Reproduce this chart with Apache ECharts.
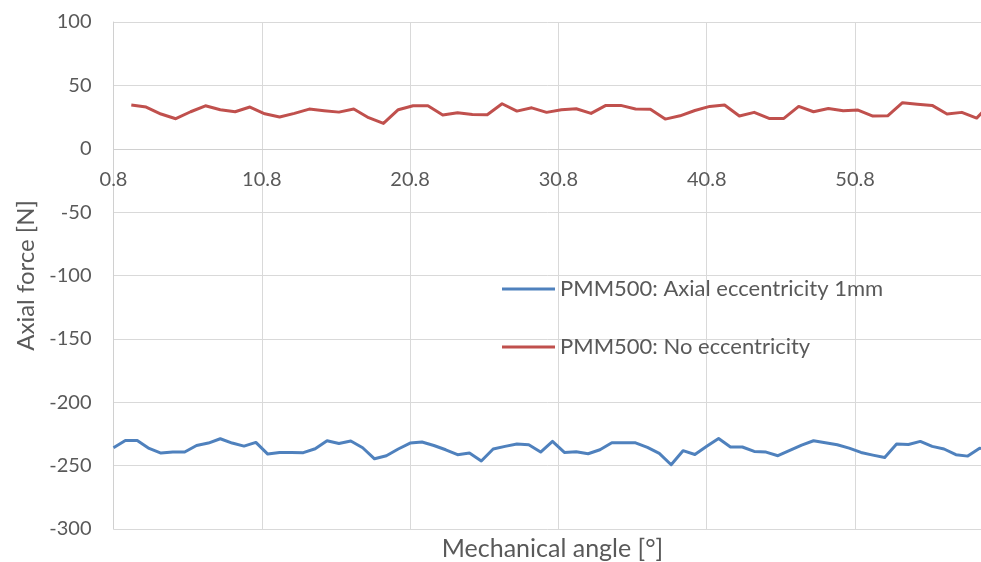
<!DOCTYPE html>
<html>
<head>
<meta charset="utf-8">
<script src="https://cdn.jsdelivr.net/npm/echarts@6/dist/echarts.min.js"></script>
<style>
  html, body { margin: 0; padding: 0; background: #ffffff; }
  #chart { width: 981px; height: 562px; }
</style>
</head>
<body>
<div id="chart"></div>
<script>
// Mechanical angle [°] and axial force [N] for the two PMM500 cases
const eccAngles = [
  0.8, 1.6, 2.4, 3.2, 4.0, 4.8, 5.6, 6.4, 7.2, 8.0,
  8.8, 9.6, 10.4, 11.2, 12.0, 12.8, 13.6, 14.4, 15.2, 16.0,
  16.8, 17.6, 18.4, 19.2, 20.0, 20.8, 21.6, 22.4, 23.2, 24.0,
  24.8, 25.6, 26.4, 27.2, 28.0, 28.8, 29.6, 30.4, 31.2, 32.0,
  32.8, 33.6, 34.4, 35.2, 36.0, 36.8, 37.6, 38.4, 39.2, 40.0,
  40.8, 41.6, 42.4, 43.2, 44.0, 44.8, 45.6, 46.4, 47.2, 48.0,
  48.8, 49.6, 50.4, 51.2, 52.0, 52.8, 53.6, 54.4, 55.2, 56.0,
  56.8, 57.6, 58.4, 59.2, 60.0
];
const eccForce = [
  -235.9, -230.1, -230.1, -236.4, -240.1, -239.3, -239.3, -234.1, -232.2, -228.8,
  -232.2, -234.6, -231.7, -240.9, -239.6, -239.6, -239.8, -236.7, -230.4, -232.5,
  -230.6, -235.9, -244.6, -242.2, -236.9, -232.2, -231.4, -234.1, -237.5, -241.4,
  -240.1, -246.4, -236.9, -234.8, -233.0, -233.5, -239.3, -230.9, -239.6, -239.1,
  -240.6, -237.5, -232.0, -232.0, -232.0, -235.6, -240.3, -249.3, -238.2, -241.2,
  -234.8, -228.6, -235.3, -235.3, -238.8, -239.3, -242.2, -238.0, -233.8, -230.4,
  -232.0, -233.5, -236.2, -239.6, -241.7, -243.6, -233.0, -233.3, -230.9, -234.8,
  -236.9, -241.4, -242.5, -236.2, -239.0
];

const noEccAngles = [
  2, 3, 4, 5, 6, 7, 8, 9, 10, 11,
  12, 13, 14, 15, 16, 17, 18, 19, 20, 21,
  22, 23, 24, 25, 26, 27, 28, 29, 30, 31,
  32, 33, 34, 35, 36, 37, 38, 39, 40, 41,
  42, 43, 44, 45, 46, 47, 48, 49, 50, 51,
  52, 53, 54, 55, 56, 57, 58, 59, 60
];
const noEccForce = [
  34.5, 32.9, 27.4, 23.7, 29.2, 33.9, 30.8, 29.2, 32.9, 27.6,
  25.0, 27.9, 31.3, 30.0, 28.9, 31.3, 24.5, 20.0, 30.8, 33.9,
  33.9, 26.6, 28.4, 27.1, 26.8, 35.5, 29.7, 32.3, 28.7, 30.8,
  31.6, 27.9, 34.2, 34.2, 31.3, 31.1, 23.4, 26.0, 30.2, 33.4,
  34.5, 25.8, 28.7, 23.9, 23.9, 33.4, 29.2, 31.8, 30.0, 30.5,
  25.8, 26.0, 36.3, 35.2, 34.2, 27.4, 28.7, 24.2, 36.0
];

const seriesNames = ['PMM500: Axial eccentricity 1mm', 'PMM500: No eccentricity'];
const seriesColors = ['#4F81BD', '#C0504D'];

const pairs = (xs, ys) => xs.map((x, i) => [x, ys[i]]);

const FONT = 'Lato';
const TEXT = '#595959';

// plot area: y spans 22..529 px, so the zero line sits 380 px above the bottom edge
const GRID_TOP = 22, GRID_BOTTOM = 33;
const Y_MIN = -300, Y_MAX = 100;
const plotH = 562 - GRID_TOP - GRID_BOTTOM;
const zeroLift = plotH * (0 - Y_MIN) / (Y_MAX - Y_MIN);

const chart = echarts.init(document.getElementById('chart'), null, { renderer: 'canvas' });
chart.setOption({
  animation: false,
  backgroundColor: '#ffffff',
  textStyle: { fontFamily: FONT, color: TEXT },
  grid: {
    left: 113.5, right: -10.5, top: GRID_TOP, bottom: GRID_BOTTOM,
    containLabel: false, outerBoundsMode: 'none'
  },
  legend: {
    orient: 'vertical',
    left: 502,
    top: 278,
    padding: 0,
    itemWidth: 53,
    itemHeight: 14,
    itemGap: 36,
    icon: 'path://M0,6 L53,6 L53,9 L0,9 Z',
    textStyle: { fontFamily: FONT, fontSize: 22, color: TEXT },
    data: seriesNames
  },
  xAxis: {
    type: 'value',
    min: 0.8,
    max: 60,
    interval: 10,
    offset: -zeroLift,
    name: 'Mechanical angle [°]',
    nameLocation: 'middle',
    nameGap: 388,
    nameTextStyle: { fontFamily: FONT, fontSize: 25, color: TEXT },
    axisLine: { onZero: false, lineStyle: { color: '#d0d0d0', width: 1 } },
    axisTick: { show: false },
    axisLabel: {
      fontFamily: FONT, fontSize: 20, color: TEXT, margin: 21,
      showMaxLabel: false,
      formatter: v => v.toFixed(1)
    },
    splitLine: { show: true, lineStyle: { color: '#d9d9d9', width: 1 } }
  },
  yAxis: {
    type: 'value',
    min: Y_MIN,
    max: Y_MAX,
    interval: 50,
    name: 'Axial force [N]',
    nameLocation: 'middle',
    nameGap: 74,
    nameTextStyle: { fontFamily: FONT, fontSize: 24, color: TEXT },
    axisLine: { show: true, onZero: false, lineStyle: { color: '#d0d0d0', width: 1 } },
    axisTick: { show: false },
    axisLabel: { fontFamily: FONT, fontSize: 20, color: TEXT, margin: 22 },
    splitLine: { show: true, lineStyle: { color: '#d9d9d9', width: 1 } }
  },
  series: [
    {
      name: seriesNames[0],
      type: 'line',
      data: pairs(eccAngles, eccForce),
      showSymbol: false,
      color: seriesColors[0],
      lineStyle: { width: 3, color: seriesColors[0], join: 'round' }
    },
    {
      name: seriesNames[1],
      type: 'line',
      data: pairs(noEccAngles, noEccForce),
      showSymbol: false,
      color: seriesColors[1],
      lineStyle: { width: 3, color: seriesColors[1], join: 'round' }
    }
  ]
});
</script>
</body>
</html>
